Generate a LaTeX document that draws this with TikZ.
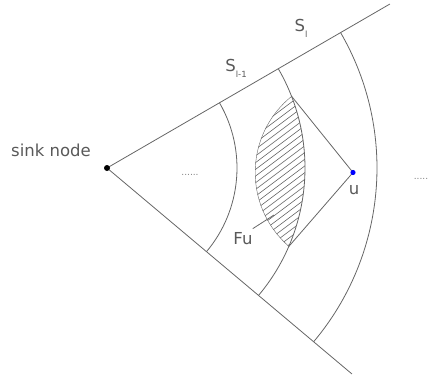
\documentclass[tikz,border=0pt]{standalone}
\usepackage{fontspec}
\setmainfont{DejaVu Sans}
\usetikzlibrary{calc,intersections}
\newcommand{\pedice}[1]{\raisebox{-0.35em}{\fontsize{8.5}{8.5}\selectfont #1}}
\begin{document}
\begin{tikzpicture}[x=1pt,y=-1pt,
        line/.style={draw=black!60,line width=0.8pt},
        hatch/.style={draw=black!60,line width=0.6pt},
        lbl/.style={text=black!65,font=\fontsize{16.5}{16.5}\selectfont,inner sep=0pt},
        dots/.style={text=black!50,font=\fontsize{9}{9}\selectfont,inner sep=0pt}]
        \useasboundingbox (0,0) rectangle (429,380);
        %punti principali
        \coordinate (sink) at (107,168);
        \coordinate (u) at (353,172.5);
        %lati del settore
        \draw[line](sink)--++(-30.1:327)coordinate(top);
        \draw[line](sink)--++(40.06:320)coordinate(bot);
        %archi S_{l-2}, S_{l-1}, S_l
        \draw[line](sink)++(-30.1:130)arc[start angle=-30.1,end angle=40.06,radius=130];
        \draw[line,name path=arcmid](sink)++(-30.1:198)arc[start angle=-30.1,end angle=40.06,radius=198];
        \draw[line](sink)++(-30.1:270)arc[start angle=-30.1,end angle=40.06,radius=270];
        %cerchio di u e intersezioni
        \path[name path=ucircle](u)circle(98);
        \path[name intersections={of=arcmid and ucircle,by={A,B}}];
        %tratteggio di Fu
        \begin{scope}
            \clip (sink) circle (198);
            \clip (u) circle (98);
            \foreach \y in {88,94.7,...,305}
                \draw[hatch](230,\y)--++(100,-75);
            \draw[line](u)circle(98);
        \end{scope}
        %segmenti verso u
        \draw[line](A)--(u)--(B);
        %nodi
        \fill[black](sink)circle(3);
        \fill[blue](u)circle(2.6);
        %etichette
        \node[lbl] (sinklbl) at (51,150) {sink node};
        \node[lbl] (ulbl) at (354,190) {u};
        \node[lbl] (fulbl) at (243,239) {Fu};
        \draw[line](fulbl.north east)++(0,-4)--(274,215);
        \node[lbl] (slbl) at (301,28) {S\pedice{l}};
        \node[lbl] (sprevlbl) at (236,68) {S\pedice{l-1}};
        \node[dots] (dotsl) at (190,175) {......};
        \node[dots] (dotsr) at (421,179) {.....};
\end{tikzpicture}
\end{document}
